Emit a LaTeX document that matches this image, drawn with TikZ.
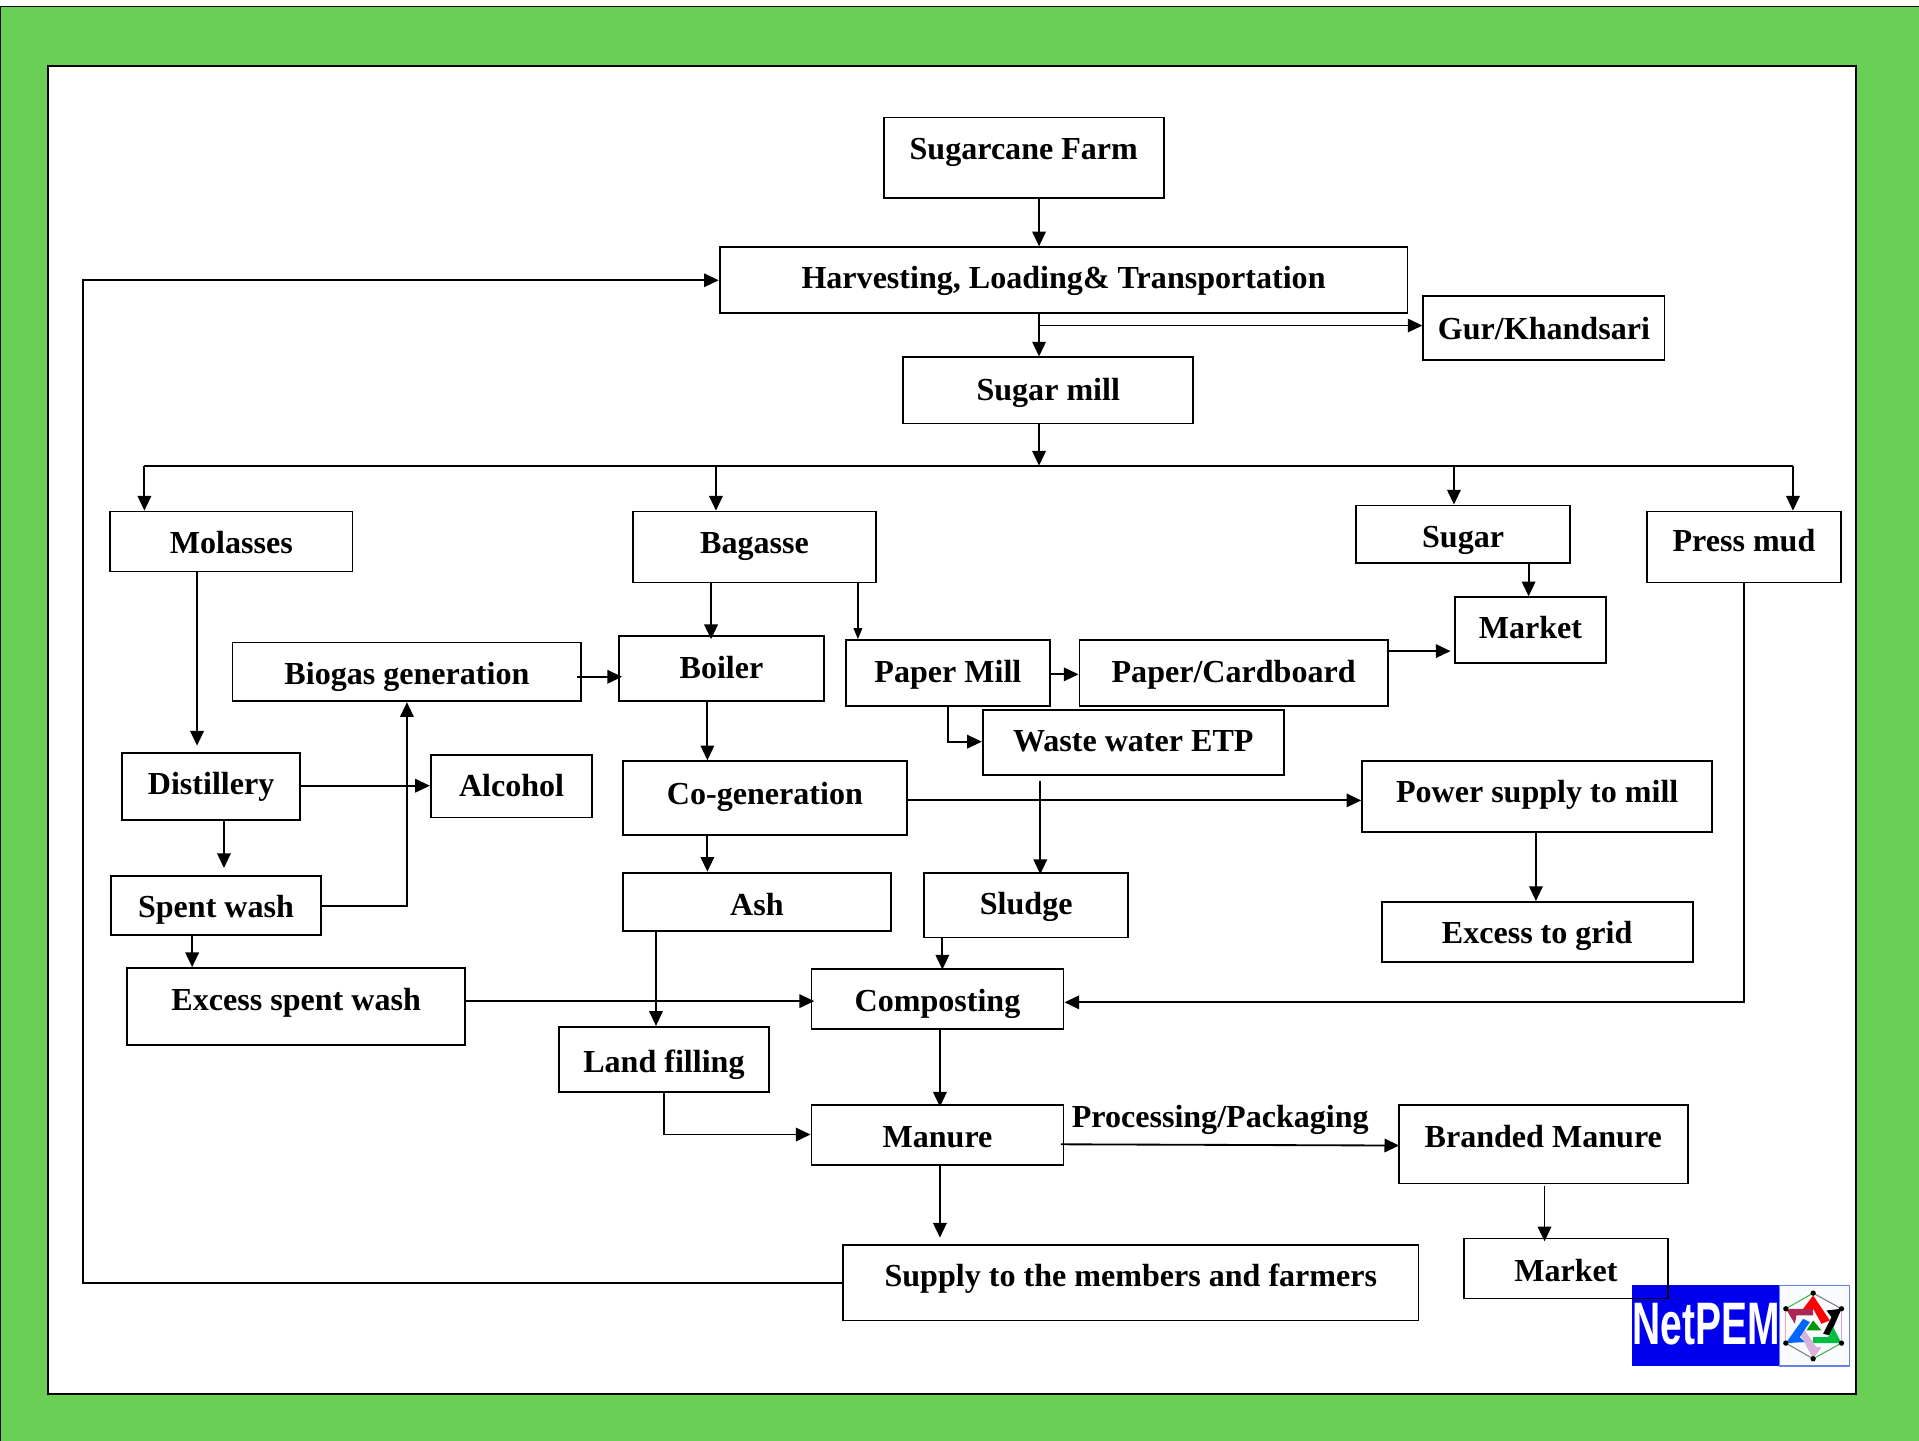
\documentclass[tikz,border=0pt]{standalone}
\usepackage{fontspec}
\setmainfont{Liberation Serif}
\newfontfamily\logofont{Liberation Sans}
\usetikzlibrary{arrows.meta}
\definecolor{framegreen}{RGB}{105,207,85}
\definecolor{logoblue}{RGB}{0,0,238}
\definecolor{logoedge}{RGB}{100,130,230}
\tikzset{
  flowbox/.style={draw,line width=1.5pt,inner sep=0pt,font=\fontsize{26.2}{30}\selectfont\bfseries},
  flow/.style={line width=1.5pt,-{Triangle[length=12pt,width=11pt]}},
  thinflow/.style={line width=1.5pt,-{Triangle[length=9pt,width=7pt]}},
  plainflow/.style={line width=1.5pt},
}
% name, x1, y1, x2, y2, baseline, text
\newcommand{\flownode}[7]{
  \pgfmathsetmacro{\boxw}{#4-#2}
  \pgfmathsetmacro{\boxh}{#5-#3}
  \pgfmathsetmacro{\boxr}{(#3+#5)/2-#6}
  \node[flowbox,minimum width=\boxw pt,minimum height=\boxh pt] (#1) at ({(#2+#4)/2},{(#3+#5)/2}) {\smash{\raisebox{\boxr pt}{#7}}};
}
\begin{document}
\begin{tikzpicture}[x=1pt,y=-1pt]
  \useasboundingbox (0,0) rectangle (1568,1177.4);
  \fill[framegreen] (0,5) rectangle (1568,1177.4);
  \draw[line width=1.2pt] (0.5,1177.4) -- (0.5,5.5) -- (1568,5.5);
  \draw[fill=white,line width=1.7pt] (39,54) rectangle (1516.5,1139) ;

  % logo
  \fill[logoblue] (1333.5,1050) rectangle (1454,1116.5);
  \draw[fill=white!97!logoedge,draw=logoedge,line width=1.2pt] (1454,1050.5) rectangle (1511,1116);
  \node[inner sep=0pt,text=white,xscale=.65,font=\logofont\fontsize{49}{49}\selectfont\bfseries] (logotext) at (1394,1082) {NetPEM};
  \begin{scope}[shift={(1481.5,1083)},scale=.2723]
    \draw[line width=.9pt,green!45!gray] (-82,-50) -- (0,-97);
    \draw[line width=.9pt,gray] (0,-97) -- (85,-50);
    \draw[line width=.9pt,violet!35] (85,-50) -- (85,53);
    \draw[line width=.9pt,green!40!gray] (85,53) -- (0,100);
    \draw[line width=.9pt,gray] (0,100) -- (-82,53);
    \draw[line width=.9pt,red!35] (-82,53) -- (-82,-50);
    \fill[red] (-30,-50) -- (0,-90) -- (50,-15) -- (25,-5) -- (0,-50) -- cycle;
    \fill[black] (85,-50) -- (40,-45) -- (55,-25) -- (30,25) -- (50,30) -- cycle;
    \fill[green!50!teal] (85,53) -- (0,53) -- (0,35) -- (45,35) -- (60,5) -- cycle;
    \fill[violet!30] (0,100) -- (-40,25) -- (-25,15) -- (10,65) -- (25,65) -- cycle;
    \fill[blue!60!cyan] (-82,53) -- (-30,-20) -- (-10,-10) -- (-40,35) -- (-25,50) -- cycle;
    \fill[purple!70!gray] (-82,-50) -- (0,-50) -- (0,-30) -- (-50,-30) -- (-55,-5) -- cycle;
    \fill[green!60!black] (0,-15) -- (25,15) -- (-20,15) -- cycle;
    \foreach \hexa in {(-82,-50),(0,-97),(85,-50),(85,53),(0,100),(-82,53)}
      \fill \hexa circle (8);
  \end{scope}

  % boxes
  \flownode{farm}{722}{96}{951}{162}{130}{Sugarcane Farm}
  \flownode{harvest}{588}{202}{1150}{256}{236}{Harvesting, Loading\& Transportation}
  \flownode{gur}{1163}{242}{1360}{294}{277}{Gur/Khandsari}
  \flownode{mill}{738}{292}{975}{346}{327}{Sugar mill}
  \flownode{molasses}{90}{418}{288}{467}{452}{Molasses}
  \flownode{bagasse}{517}{418}{716}{476}{452}{Bagasse}
  \flownode{sugar}{1108}{413}{1283}{460}{447}{Sugar}
  \flownode{press}{1346}{418}{1504}{476}{451}{Press mud}
  \flownode{marketa}{1189}{488}{1312}{542}{522}{Market}
  \flownode{biogas}{190}{525}{475}{573}{559}{Biogas generation}
  \flownode{boiler}{506}{520}{673}{573}{554}{Boiler}
  \flownode{paper}{691}{523}{858}{577}{558}{Paper Mill}
  \flownode{card}{882}{523}{1134}{577}{558}{Paper/Cardboard}
  \flownode{waste}{803}{580}{1049}{633}{614}{Waste water ETP}
  \flownode{distillery}{100}{615}{245}{670}{649}{Distillery}
  \flownode{alcohol}{352}{617}{484}{668}{651}{Alcohol}
  \flownode{cogen}{509}{622}{741}{682}{657}{Co-generation}
  \flownode{power}{1113}{622}{1399}{680}{656}{Power supply to mill}
  \flownode{spent}{91}{716}{262}{764}{750}{Spent wash}
  \flownode{ash}{509}{713}{728}{761}{748}{Ash}
  \flownode{sludge}{755}{713}{922}{766}{747.5}{Sludge}
  \flownode{grid}{1129}{737}{1383}{786}{771}{Excess to grid}
  \flownode{excess}{104}{791}{380}{854}{826}{Excess spent wash}
  \flownode{composting}{663}{792}{869}{841}{826.5}{Composting}
  \flownode{land}{457}{839}{628}{892}{876}{Land filling}
  \flownode{manure}{663}{903}{869}{952}{938}{Manure}
  \flownode{branded}{1143}{903}{1379}{967}{938}{Branded Manure}
  \flownode{supply}{689}{1017}{1159}{1079}{1051}{Supply to the members and farmers}
  \flownode{marketb}{1196}{1012}{1363}{1061}{1047}{Market}
  \node[flowbox,draw=none,anchor=base west] (packlabel) at (875,921) {Processing/Packaging};

  % junctions on the long bar
  \coordinate (barleft) at (118,380.5);
  \coordinate (barright) at (1465,380.5);
  \coordinate (barmid) at (849,380.5);
  \coordinate (barbag) at (585,380.5);
  \coordinate (barsugar) at (1188,380.5);
  \coordinate (gurfork) at (849,266);

  \draw[flow] (849,0 |- farm.south) -- (849,0 |- harvest.north);
  \draw[flow] (849,0 |- harvest.south) -- (849,0 |- mill.north);
  \draw[flow] (gurfork) -- (gur.west |- gurfork);
  \draw[flow] (849,0 |- mill.south) -- (barmid);
  \draw[plainflow] (barleft) -- (barright);
  \draw[flow] (barleft) -- (118,0 |- molasses.north);
  \draw[flow] (barbag) -- (585,0 |- bagasse.north);
  \draw[flow] (barsugar) -- (1188,0 |- sugar.north);
  \draw[flow] (barright) -- (1465,0 |- press.north);

  \draw[flow,shorten >=5pt] (161,0 |- molasses.south) -- (161,0 |- distillery.north);
  \draw[flow,shorten >=-3pt] (581,0 |- bagasse.south) -- (581,0 |- boiler.north);
  \draw[thinflow] (701,0 |- bagasse.south) -- (701,0 |- paper.north);
  \draw[flow,shorten >=-3pt,shorten <=-4pt] (biogas.east |- 0,553) -- (boiler.west |- 0,553);
  \draw[flow] (578,0 |- boiler.south) -- (578,0 |- cogen.north);
  \draw[flow] (paper.east |- 0,551) -- (card.west |- 0,551);
  \draw[flow,shorten >=3pt] (card.east |- 0,532) -- (marketa.west |- 0,532);
  \draw[flow] (1249,0 |- sugar.south) -- (1249,0 |- marketa.north);
  \draw[flow] (paper.south) |- (waste.west |- 0,606);
  \draw[flow,shorten <=4pt,shorten >=-2pt] (850,0 |- waste.south) -- (850,0 |- sludge.north);
  \draw[flow] (cogen.east |- 0,654) -- (power.west |- 0,654);
  \draw[flow] (578,0 |- cogen.south) -- (578,0 |- ash.north);
  \draw[flow] (distillery.east |- 0,642) -- (alcohol.west |- 0,642);
  \draw[flow,shorten >=6pt] (183,0 |- distillery.south) -- (183,0 |- spent.north);
  \draw[flow] (spent.east |- 0,740) -| (biogas.south);
  \draw[flow] (157,0 |- spent.south) -- (157,0 |- excess.north);
  \draw[flow,shorten >=-3pt] (excess.east |- 0,818) -- (composting.west |- 0,818);
  \draw[flow] (536,0 |- ash.south) -- (536,0 |- land.north);
  \draw[flow,shorten >=-1pt] (770,0 |- sludge.south) -- (770,0 |- composting.north);
  \draw[flow] (press.south) |- (composting.east |- 0,819);
  \draw[flow] (1255,0 |- power.south) -- (1255,0 |- grid.north);
  \draw[flow,shorten >=-2pt] (768,0 |- composting.south) -- (768,0 |- manure.north);
  \draw[flow] (land.south) |- (manure.west |- 0,927);
  \draw[flow,shorten <=-3pt,shorten >=-1pt] (manure.east |- 0,935) -- (branded.west |- 0,936);
  \draw[flow,shorten >=5pt] (768,0 |- manure.south) -- (768,0 |- supply.north);
  \draw[flow,shorten <=1pt,shorten >=-3pt] (1262,0 |- branded.south) -- (1262,0 |- marketb.north);
  \draw[flow] (supply.west |- 0,1048) -- (68,1048) -- (68,229) -- (harvest.west |- 0,229);
\end{tikzpicture}
\end{document}
